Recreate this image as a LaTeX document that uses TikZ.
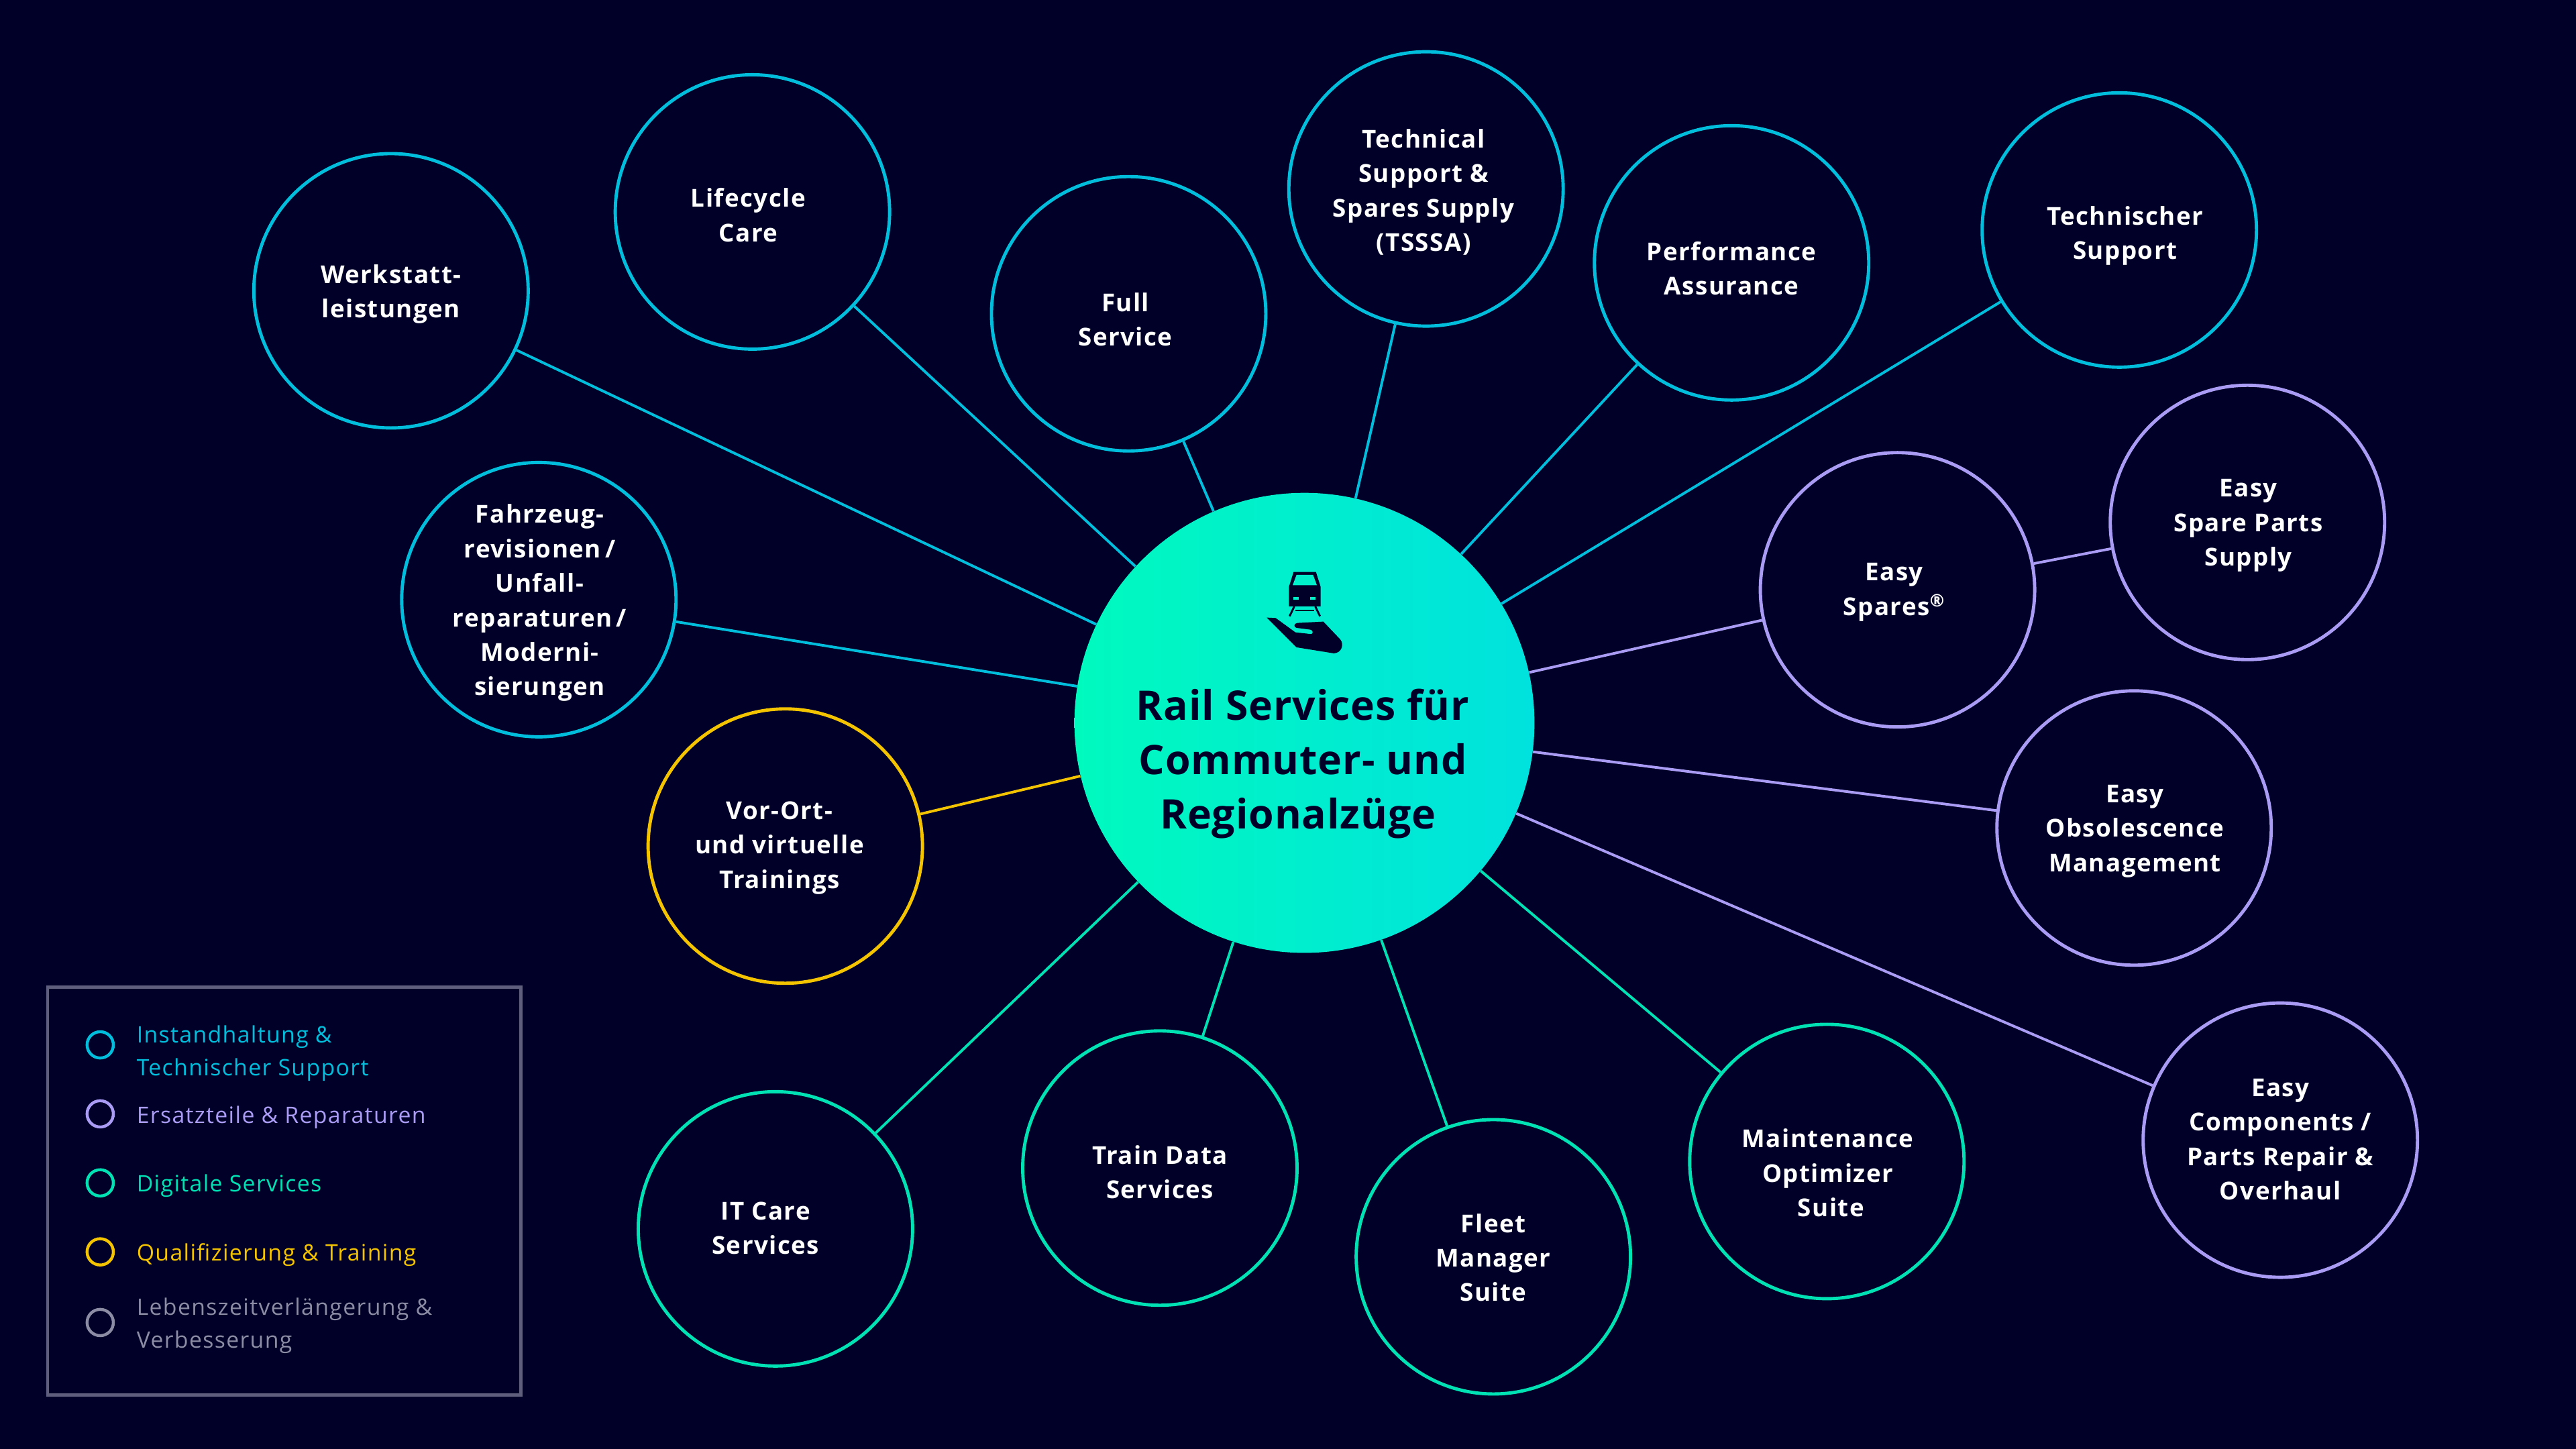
\documentclass[tikz,border=0pt]{standalone}
\usepackage{fontspec}
\setmainfont{Open Sans}
\newfontfamily\nodefont[LetterSpace=4]{Open Sans}
\newfontfamily\titlefont[LetterSpace=1.5]{Open Sans}
\definecolor{bgS}{RGB}{0,0,40}
\definecolor{cyanS}{RGB}{0,190,220}
\definecolor{lavS}{RGB}{170,156,245}
\definecolor{greenS}{RGB}{0,225,180}
\definecolor{yellowS}{RGB}{245,196,0}
\definecolor{grayS}{RGB}{140,140,165}
\definecolor{frameS}{RGB}{95,95,125}
\definecolor{mainL}{RGB}{0,250,190}
\definecolor{mainR}{RGB}{0,226,222}
\begin{document}
\begin{tikzpicture}[x=1pt,y=-1pt,
  svc/.style={circle, draw=#1, line width=2pt, fill=bgS, minimum size=167pt, inner sep=0pt},
  lbl/.style={text=white, align=center, inner sep=0pt, font=\nodefont\bfseries\fontsize{15}{21}\selectfont},
  link/.style={draw=#1, line width=1.6pt},
  maincirc/.style={circle, minimum size=280pt, inner sep=0pt, draw=none, left color=mainL, right color=mainR},
  titletext/.style={text=bgS, align=center, font=\titlefont\bfseries\fontsize{24.8}{33}\selectfont},
  lgc/.style={circle, draw=#1, line width=1.8pt, minimum size=16pt, inner sep=0pt},
  lgt/.style={anchor=west, text=#1, align=left, inner sep=0pt, font=\nodefont\fontsize{13.8}{20}\selectfont},
  iconfill/.style={fill=bgS, draw=none}]
\fill[bgS] (0,0) rectangle (1568,882);
\useasboundingbox (0,0) rectangle (1568,882);

% center
\node[maincirc] (c) at (794,440) {};

% outer service circles
\node[svc=cyanS] (werk) at (238,177) {};
\node[svc=cyanS] (life) at (458,129) {};
\node[svc=cyanS] (full) at (687,191) {};
\node[svc=cyanS] (tsssa) at (868,115) {};
\node[svc=cyanS] (perf) at (1054,160) {};
\node[svc=cyanS] (tsup) at (1290,140) {};
\node[svc=cyanS] (fahr) at (328,365) {};
\node[svc=lavS] (esp) at (1155,359) {};
\node[svc=lavS] (espps) at (1368,318) {};
\node[svc=lavS] (eobs) at (1299,504) {};
\node[svc=lavS] (ecomp) at (1388,694) {};
\node[svc=yellowS] (train) at (478,515) {};
\node[svc=greenS] (itc) at (472,748) {};
\node[svc=greenS] (tds) at (706,711) {};
\node[svc=greenS] (fms) at (909,765) {};
\node[svc=greenS] (mos) at (1112,707) {};

% labels
\node[lbl] (werk-t) at ([shift={(0,2)}]werk.center) {Werkstatt-\\leistungen};
\node[lbl] (life-t) at ([shift={(-2.5,2)}]life.center) {Lifecycle\\Care};
\node[lbl] (full-t) at ([shift={(-2,3.5)}]full.center) {Full\\Service};
\node[lbl] (tsssa-t) at ([shift={(-1.5,2)}]tsssa.center) {Technical\\Support \&\\Spares Supply\\(TSSSA)};
\node[lbl] (perf-t) at ([shift={(0,3.5)}]perf.center) {Performance\\Assurance};
\node[lbl] (tsup-t) at ([shift={(3.5,3.5)}]tsup.center) {Technischer\\Support};
\node[lbl] (fahr-t) at ([shift={(0.5,2)}]fahr.center) {Fahrzeug-\\revisionen\,/\\Unfall-\\reparaturen\,/\\Moderni-\\sierungen};
\node[lbl] (esp-t) at ([shift={(-2,1.5)}]esp.center) {Easy\\Spares\textsuperscript{®}};
\node[lbl] (espps-t) at ([shift={(0.5,2)}]espps.center) {Easy\\Spare Parts\\Supply};
\node[lbl] (eobs-t) at ([shift={(0.5,2)}]eobs.center) {Easy\\Obsolescence\\Management};
\node[lbl] (ecomp-t) at ([shift={(0,-0.5)}]ecomp.center) {Easy\\Components /\\Parts Repair \&\\Overhaul};
\node[lbl] (train-t) at ([shift={(-3.5,1)}]train.center) {Vor-Ort-\\und virtuelle\\Trainings};
\node[lbl] (itc-t) at ([shift={(-6,-0.5)}]itc.center) {IT Care\\Services};
\node[lbl] (tds-t) at ([shift={(0,2.5)}]tds.center) {Train Data\\Services};
\node[lbl] (fms-t) at ([shift={(0,0.5)}]fms.center) {Fleet\\Manager\\Suite};
\node[lbl] (mos-t) at ([shift={(0.5,7)}]mos.center) {Maintenance\\Optimizer\\\hspace*{4pt}Suite};

% connectors
\draw[link=cyanS] (c) -- (werk);
\draw[link=cyanS] (c) -- (life);
\draw[link=cyanS] (c) -- (full);
\draw[link=cyanS] (c) -- (tsssa);
\draw[link=cyanS] (c) -- (perf);
\draw[link=cyanS] (c) -- (tsup);
\draw[link=cyanS] (c) -- (fahr);
\draw[link=lavS] (c) -- (esp);
\draw[link=lavS] (esp) -- (espps);
\draw[link=lavS] (c) -- (eobs);
\draw[link=lavS] (c) -- (ecomp);
\draw[link=yellowS] (c) -- (train);
\draw[link=greenS] (c) -- (itc);
\draw[link=greenS] (c) -- (tds);
\draw[link=greenS] (c) -- (fms);
\draw[link=greenS] (c) -- (mos);

% title
\node[titletext] (title) at (793,465) {Rail Services für\\Commuter- und\\Regionalzüge\hspace*{6pt}};

% icon
\begin{scope}[shift={(759.5,338.9)}, x=0.1361pt, y=-0.1361pt]
  \fill[iconfill] (205,68) -- (305,68) -- (326,135) -- (326,222) -- (184,222) -- (184,135) -- cycle;
  \fill[mainR!40!mainL] (218,81) -- (292,81) -- (309,127) -- (201,127) -- cycle;
  \fill[mainR!40!mainL] (205,181) rectangle (228,193);
  \fill[mainR!40!mainL] (280,181) rectangle (303,193);
  \draw[bgS, line width=1.2pt] (208,222) -- (187,266);
  \draw[bgS, line width=1.2pt] (302,222) -- (323,266);
  \draw[bgS, line width=1pt] (212,240) -- (298,240);
  \fill[iconfill] (85,272) -- (125,274) -- (213,338) -- (284,346)
     .. controls (294,344) and (292,328) .. (280,326) -- (218,318)
     .. controls (204,314) and (206,298) .. (222,296) -- (338,290)
     -- (414,370) .. controls (432,392) and (420,430) .. (385,432)
     -- (218,405) -- cycle;
\end{scope}

% legend
\draw[frameS, line width=2pt] (29,601) rectangle (317,849);
\node[lgc=cyanS] (l1) at (61,636) {};
\node[lgt=cyanS] (t1) at (83,641) {Instandhaltung \&\\Technischer Support};
\node[lgc=lavS] (l2) at (61,678) {};
\node[lgt=lavS] (t2) at (83,680) {Ersatzteile \& Reparaturen};
\node[lgc=greenS] (l3) at (61,720) {};
\node[lgt=greenS] (t3) at (83,722) {Digitale Services};
\node[lgc=yellowS] (l4) at (61,762) {};
\node[lgt=yellowS] (t4) at (83,764) {Qualifizierung \& Training};
\node[lgc=grayS] (l5) at (61,805) {};
\node[lgt=grayS] (t5) at (83,807) {Lebenszeitverlängerung \&\\Verbesserung};
\end{tikzpicture}
\end{document}
